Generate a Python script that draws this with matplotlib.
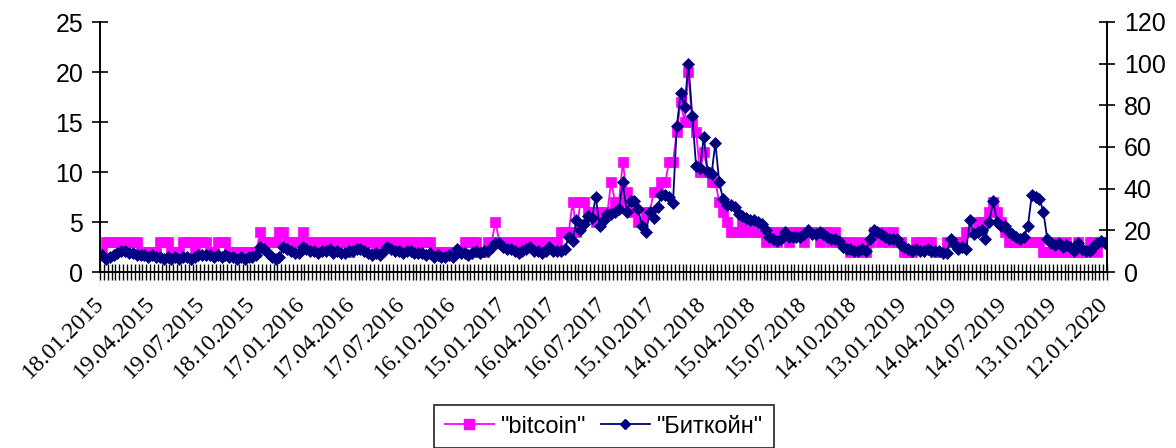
import matplotlib
matplotlib.use("Agg")
import matplotlib.pyplot as plt
import matplotlib.transforms as mtransforms
from matplotlib import font_manager as fm
from matplotlib.lines import Line2D

plt.rcParams["font.serif"] = ["Liberation Serif", "DejaVu Serif"]
plt.rcParams["font.sans-serif"] = ["Liberation Sans", "DejaVu Sans"]
plt.rcParams["font.family"] = "sans-serif"

# Weekly search interest, 18.01.2015 .. 12.01.2020 (one row = 13 weeks)
bitcoin = [
    2, 3, 3, 3, 3, 3, 3, 3, 3, 3, 2, 2, 2,
    2, 2, 3, 3, 3, 2, 2, 2, 3, 3, 3, 2, 3,
    3, 3, 2, 2, 3, 3, 3, 2, 2, 2, 2, 2, 2,
    2, 2, 4, 3, 3, 3, 3, 4, 4, 3, 3, 3, 3,
    4, 3, 3, 3, 3, 3, 3, 3, 3, 3, 3, 3, 2,
    3, 3, 3, 3, 3, 3, 2, 3, 3, 3, 3, 3, 3,
    3, 3, 3, 3, 2, 3, 3, 3, 2, 2, 2, 2, 2,
    2, 2, 2, 3, 3, 3, 3, 2, 2, 3, 3, 5, 3,
    3, 3, 3, 3, 3, 3, 3, 3, 3, 3, 3, 3, 3,
    3, 3, 4, 4, 4, 7, 4, 7, 7, 6, 6, 5, 6,
    6, 6, 9, 7, 7, 11, 8, 7, 6, 5, 5, 6, 6,
    8, 8, 9, 9, 11, 11, 14, 17, 15, 20, 15, 14, 10,
    12, 10, 9, 9, 7, 6, 5, 4, 4, 4, 5, 4, 5,
    4, 4, 4, 3, 4, 4, 3, 4, 4, 3, 4, 4, 4,
    3, 4, 4, 4, 3, 4, 4, 3, 4, 3, 3, 3, 2,
    3, 2, 3, 2, 3, 4, 4, 3, 4, 3, 4, 3, 3,
    2, 2, 2, 3, 3, 3, 3, 3, 2, 2, 2, 3, 3,
    3, 3, 3, 4, 4, 4, 5, 5, 5, 6, 7, 6, 5,
    4, 3, 3, 3, 3, 3, 3, 3, 3, 3, 2, 2, 2,
    3, 2, 2, 3, 2, 2, 3, 2, 2, 3, 3, 2, 3,
    3,
]

bitkoin = [
    8, 6, 7, 8, 9, 10, 10, 9, 9, 8, 8, 8, 7,
    8, 7, 7, 6, 7, 6, 7, 6, 7, 7, 6, 7, 8,
    8, 8, 8, 7, 8, 7, 8, 7, 7, 6, 7, 6, 7,
    7, 8, 12, 11, 9, 7, 6, 7, 12, 11, 10, 9, 9,
    12, 11, 10, 10, 9, 10, 10, 11, 9, 10, 9, 9, 10,
    10, 11, 11, 10, 9, 8, 9, 8, 10, 12, 11, 10, 10,
    9, 10, 10, 9, 9, 9, 8, 9, 7, 8, 7, 7, 8,
    7, 11, 9, 9, 8, 9, 10, 9, 10, 10, 12, 14, 14,
    12, 11, 11, 10, 9, 10, 11, 12, 10, 10, 9, 10, 12,
    10, 10, 10, 11, 17, 15, 25, 20, 23, 27, 26, 36, 22,
    25, 28, 28, 29, 30, 43, 29, 34, 34, 30, 22, 19, 29,
    26, 31, 37, 37, 36, 33, 70, 86, 79, 100, 75, 51, 50,
    65, 48, 47, 62, 43, 35, 32, 32, 31, 28, 27, 26, 25,
    25, 24, 23, 20, 17, 16, 15, 16, 19, 17, 17, 17, 17,
    18, 20, 18, 18, 19, 18, 17, 16, 16, 15, 12, 11, 11,
    10, 10, 11, 10, 16, 20, 19, 18, 17, 16, 16, 16, 13,
    12, 11, 10, 11, 10, 10, 11, 10, 10, 10, 9, 9, 16,
    13, 11, 12, 11, 25, 18, 19, 20, 16, 24, 34, 24, 22,
    22, 19, 18, 17, 16, 17, 22, 37, 36, 35, 29, 16, 14,
    13, 14, 12, 13, 12, 10, 14, 11, 10, 10, 12, 14, 15,
    14,
]

date_labels = [
    "18.01.2015", "19.04.2015", "19.07.2015", "18.10.2015",
    "17.01.2016", "17.04.2016", "17.07.2016", "16.10.2016",
    "15.01.2017", "16.04.2017", "16.07.2017", "15.10.2017",
    "14.01.2018", "15.04.2018", "15.07.2018", "14.10.2018",
    "13.01.2019", "14.04.2019", "14.07.2019", "13.10.2019",
    "12.01.2020",
]
label_step = 13

MAGENTA = "#FF00FF"
NAVY = "#000080"

# dates use the Times-like face, loaded straight from its file
serif_path = fm.findfont(fm.FontProperties(family="Liberation Serif"))
date_font = fm.FontProperties(fname=serif_path, size=17)

fig = plt.figure(figsize=(11.76, 4.48), dpi=100)
ax = fig.add_axes([100 / 1176, 1 - 272 / 448, 1007 / 1176, 250 / 448])
ax2 = ax.twinx()

x = list(range(len(bitcoin)))
ax.plot(x, bitcoin, color=MAGENTA, lw=1.3, marker="s", ms=7.5,
        mfc=MAGENTA, mec=MAGENTA, mew=0.5)
ax2.plot(x, bitkoin, color=NAVY, lw=1.3, marker="D", ms=6.3,
         mfc=NAVY, mec=NAVY, mew=0.5)

n = len(bitcoin)
ax.set_xlim(-0.5, n - 0.5)
ax.set_ylim(0, 25)
ax2.set_ylim(0, 120)
ax.set_yticks(range(0, 26, 5))
ax2.set_yticks(range(0, 121, 20))

# category ticks sit between weeks, dates every 13 weeks
ax.set_xticks([i - 0.5 for i in range(n + 1)], minor=True)
label_pos = list(range(0, n, label_step))
ax.set_xticks(label_pos)
ax.set_xticklabels([""] * len(label_pos))
ax.tick_params(axis="x", which="major", length=0)
ax.tick_params(axis="x", which="minor", direction="inout", length=12, width=1)

# slanted dates hanging under the axis
date_trans = (mtransforms.blended_transform_factory(ax.transData, ax.transAxes)
              + mtransforms.ScaledTranslation(-8 / 100, -21 / 100, fig.dpi_scale_trans))
for pos, lab in zip(label_pos, date_labels):
    ax.text(pos, 0, lab, transform=date_trans, rotation=45,
            rotation_mode="anchor", ha="right", va="top",
            fontproperties=date_font, clip_on=False)

for a in (ax, ax2):
    a.tick_params(axis="y", direction="inout", length=12, width=1.2,
                  labelsize=18, pad=6)
    a.spines["top"].set_visible(False)
    for s in ("left", "right", "bottom"):
        a.spines[s].set_linewidth(1.2)

handles = [
    Line2D([], [], color=MAGENTA, lw=1.3, marker="s", ms=7, mfc=MAGENTA, mec=MAGENTA),
    Line2D([], [], color=NAVY, lw=1.3, marker="D", ms=5.5, mfc=NAVY, mec=NAVY),
]
leg = fig.legend(handles, ['"bitcoin"', '"Биткойн"'], loc="upper center",
                 bbox_to_anchor=(604 / 1176, 1 - 405 / 448), ncol=2,
                 frameon=True, fancybox=False, borderpad=0.45,
                 borderaxespad=0, handlelength=2.1, columnspacing=0.6,
                 handletextpad=0.3, prop={"size": 17})
leg.get_frame().set_edgecolor("black")
leg.get_frame().set_linewidth(1.3)

fig.savefig("out.png", dpi=100, facecolor="white")
